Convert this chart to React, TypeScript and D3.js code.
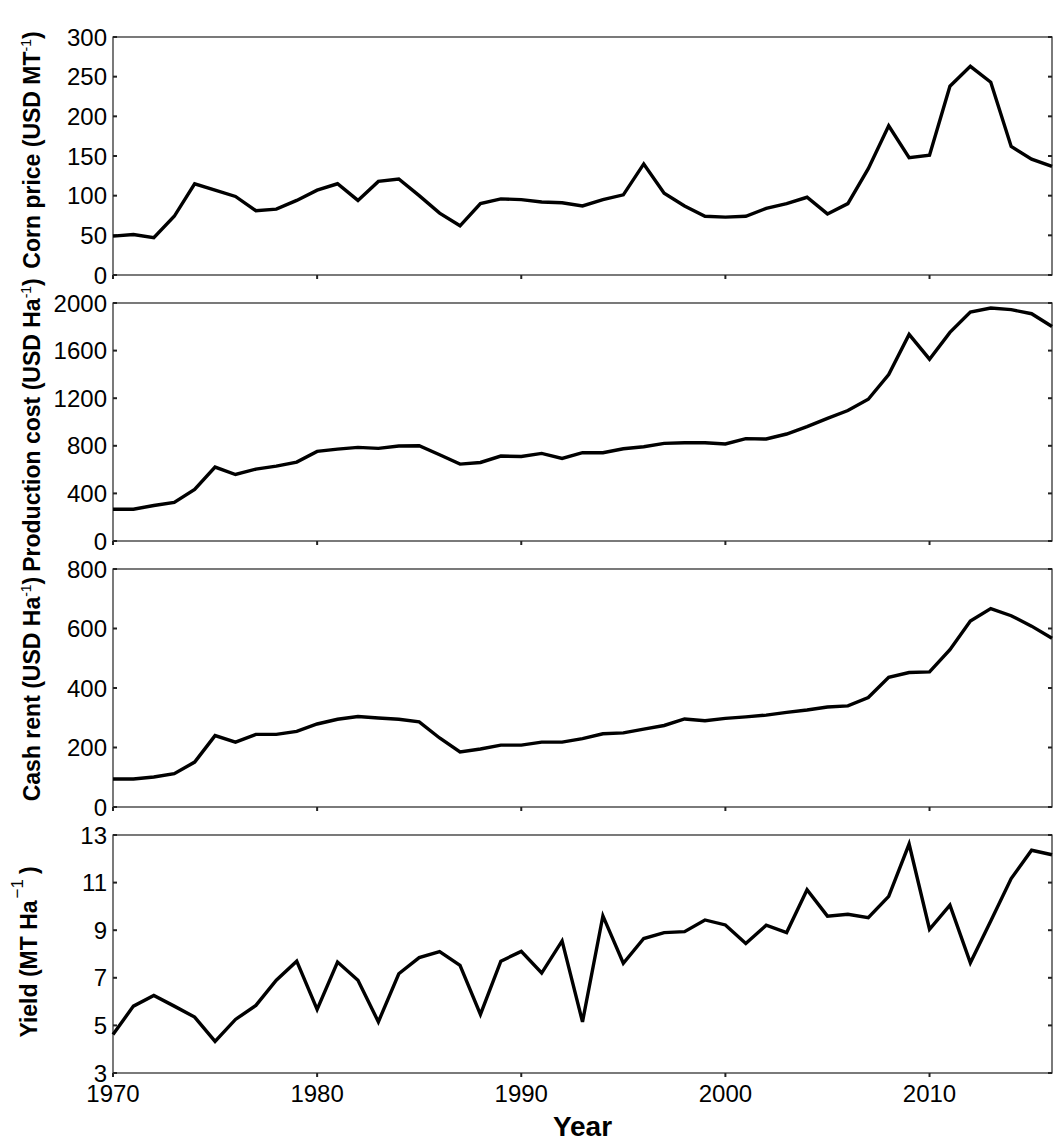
import React, {useEffect, useRef} from 'react';
import * as d3 from 'd3';

const years = [
    1970, 1971, 1972, 1973, 1974, 1975, 1976, 1977, 1978, 1979,
    1980, 1981, 1982, 1983, 1984, 1985, 1986, 1987, 1988, 1989,
    1990, 1991, 1992, 1993, 1994, 1995, 1996, 1997, 1998, 1999,
    2000, 2001, 2002, 2003, 2004, 2005, 2006, 2007, 2008, 2009,
    2010, 2011, 2012, 2013, 2014, 2015, 2016
];

const cornPrice = [
    49, 51, 47, 74, 115, 107, 99, 81, 83, 94,
    107, 115, 94, 118, 121, 100, 78, 62, 90, 96,
    95, 92, 91, 87, 95, 101, 140, 103, 87, 74,
    73, 74, 84, 90, 98, 77, 90, 134, 188, 148,
    151, 238, 263, 243, 162, 146, 137
];

const productionCost = [
    267, 267, 298, 325, 433, 621, 559, 604, 629, 663,
    753, 772, 787, 778, 798, 801, 725, 646, 660, 714,
    710, 736, 694, 742, 742, 775, 792, 820, 826, 826,
    815, 860, 857, 899, 961, 1031, 1096, 1191, 1399, 1736,
    1528, 1753, 1924, 1958, 1944, 1910, 1803
];

const cashRent = [
    94, 94, 101, 112, 151, 240, 218, 244, 244, 254,
    279, 295, 304, 299, 295, 286, 232, 185, 195, 208,
    208, 218, 218, 230, 246, 249, 262, 274, 296, 290,
    298, 303, 309, 318, 326, 336, 340, 368, 436, 452,
    454, 529, 625, 667, 643, 608, 567
];

const yieldMt = [
    4.62, 5.81, 6.26, 5.81, 5.35, 4.33, 5.25, 5.84, 6.90, 7.70,
    5.67, 7.66, 6.90, 5.15, 7.17, 7.85, 8.10, 7.52, 5.46, 7.70,
    8.11, 7.20, 8.55, 5.15, 9.60, 7.61, 8.65, 8.90, 8.94, 9.43,
    9.22, 8.44, 9.21, 8.90, 10.70, 9.59, 9.67, 9.53, 10.42, 12.62,
    9.04, 10.05, 7.63, 9.39, 11.17, 12.36, 12.17
];

const xTicks = [1970, 1980, 1990, 2000, 2010];
const cornTicks = [0, 50, 100, 150, 200, 250, 300];
const costTicks = [0, 400, 800, 1200, 1600, 2000];
const rentTicks = [0, 200, 400, 600, 800];
const yieldTicks = [3, 5, 7, 9, 11, 13];

const panels = [
    {label: 'Corn price (USD MT', kind: 'usd', values: cornPrice, ticks: cornTicks, domain: [0, 300], shift: -6},
    {label: 'Production cost (USD Ha', kind: 'usd', values: productionCost, ticks: costTicks, domain: [0, 2000], shift: 3},
    {label: 'Cash rent (USD Ha', kind: 'usd', values: cashRent, ticks: rentTicks, domain: [0, 800], shift: 1},
    {label: 'Yield (MT Ha', kind: 'yield', values: yieldMt, ticks: yieldTicks, domain: [3, 13], shift: -2}
];

const App: React.FC = () => {
    const svgRef = useRef<SVGSVGElement>(null);
    const width = 1063;
    const height = 1147;

    useEffect(() => {
        const svg = d3.select(svgRef.current);
        svg.selectAll("*").remove();

        const left = 113, right = 1052;
        const top0 = 37, panelH = 238, step = 266;
        const font = "Arial, 'Liberation Sans', sans-serif";
        const axisColor = "#222";
        const tickFont = "24px";

        const x = d3.scaleLinear().domain([1970, 2016]).range([left, right]);

        panels.forEach((p, i) => {
            const top = top0 + i * step;
            const bottom = top + panelH;
            const y = d3.scaleLinear().domain(p.domain).range([bottom, top]);
            const g = svg.append("g");

            // box
            g.append("rect")
                .attr("x", left).attr("y", top)
                .attr("width", right - left).attr("height", panelH)
                .attr("fill", "none")
                .attr("stroke", axisColor)
                .attr("stroke-width", 1.2);

            // y ticks on both sides, pointing in
            p.ticks.forEach(t => {
                g.append("line")
                    .attr("x1", left).attr("x2", left + 4)
                    .attr("y1", y(t)).attr("y2", y(t))
                    .attr("stroke", axisColor).attr("stroke-width", 2);
                g.append("line")
                    .attr("x1", right - 4).attr("x2", right)
                    .attr("y1", y(t)).attr("y2", y(t))
                    .attr("stroke", axisColor).attr("stroke-width", 2);
                g.append("text")
                    .attr("x", left - 6)
                    .attr("y", y(t))
                    .attr("dy", "0.36em")
                    .attr("text-anchor", "end")
                    .style("font-family", font)
                    .style("font-size", tickFont)
                    .attr("fill", "#000")
                    .text(t);
            });

            // bottom x ticks
            xTicks.forEach(t => {
                g.append("line")
                    .attr("x1", x(t)).attr("x2", x(t))
                    .attr("y1", bottom).attr("y2", bottom + 4)
                    .attr("stroke", axisColor).attr("stroke-width", 2);
            });

            const line = d3.line<number>()
                .x((_, k) => x(years[k]))
                .y(d => y(d));

            g.append("path")
                .datum(p.values)
                .attr("fill", "none")
                .attr("stroke", "#000")
                .attr("stroke-width", 3.4)
                .attr("d", line);

            // y label
            const cy = (top + bottom) / 2 + p.shift;
            if (p.kind === 'yield') {
                const lab = g.append("text")
                    .attr("transform", `translate(37,${cy}) rotate(-90)`)
                    .attr("text-anchor", "middle")
                    .style("font-family", font)
                    .style("font-size", "23px")
                    .style("font-weight", "bold");
                lab.append("tspan").text(p.label);
                lab.append("tspan").attr("dy", -14).attr("dx", 2)
                    .style("font-size", "17px").style("font-weight", "normal").text("\u22121");
                lab.append("tspan").attr("dy", 14).attr("dx", 5).text(")");
            } else {
                const lab = g.append("text")
                    .attr("transform", `translate(40,${cy}) rotate(-90)`)
                    .attr("text-anchor", "middle")
                    .style("font-family", font)
                    .style("font-size", "23px")
                    .style("font-weight", "bold");
                lab.append("tspan").text(p.label);
                lab.append("tspan").attr("dy", -9).style("font-size", "14px")
                    .style("font-weight", "normal").text("-1");
                lab.append("tspan").attr("dy", 9).text(")");
            }

            // x tick labels and title under the last panel
            if (i === panels.length - 1) {
                xTicks.forEach(t => {
                    g.append("text")
                        .attr("x", x(t))
                        .attr("y", bottom + 29)
                        .attr("text-anchor", "middle")
                        .style("font-family", font)
                        .style("font-size", tickFont)
                        .attr("fill", "#000")
                        .text(t);
                });
                g.append("text")
                    .attr("x", (left + right) / 2)
                    .attr("y", bottom + 63)
                    .attr("text-anchor", "middle")
                    .style("font-family", font)
                    .style("font-size", "28px")
                    .style("font-weight", "bold")
                    .text("Year");
            }
        });
    }, []);

    return (
        <svg
            ref={svgRef}
            width={width}
            height={height}
            style={{position: 'absolute', left: 0, top: 0, background: '#fff'}}
        />
    );
};

export default App;
